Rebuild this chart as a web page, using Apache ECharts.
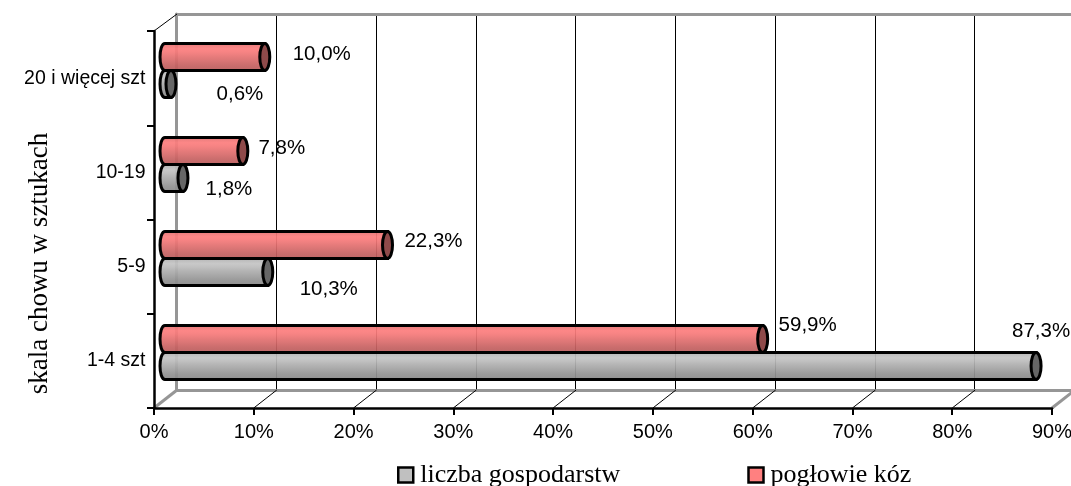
<!DOCTYPE html>
<html><head><meta charset="utf-8">
<style>html,body{margin:0;padding:0;background:#fff}#c{width:1071px;height:486px}</style>
<script src="https://cdn.jsdelivr.net/npm/echarts@6/dist/echarts.min.js"></script>
</head><body><div id="c"></div>
<script>
const categories = ['1-4 szt', '5-9', '10-19', '20 i więcej szt'];
const farms = [87.3, 10.3, 1.8, 0.6];
const goats = [59.9, 22.3, 7.8, 10.0];
const farmsName = 'liczba gospodarstw';
const goatsName = 'pogłowie kóz';
const axisName = 'skala chowu w sztukach';
const ticks = [0, 10, 20, 30, 40, 50, 60, 70, 80, 90];

// label nudges (layout only), px from the end of each bar
const farmLabelNudge = [[5, -35], [61, 17], [46, 11], [69, 10]];
const goatLabelNudge = [[45, -14], [46, -4], [39, -3], [57, -3]];

const sans = '"Liberation Sans", Arial, sans-serif';
const serif = '"Liberation Serif", "Times New Roman", serif';

function bands(stops) {
  return { type: 'linear', x: 0, y: 0, x2: 0, y2: 1,
    colorStops: stops.map((c, i) => ({ offset: i / (stops.length - 1), color: c })) };
}
const redBody = bands(['rgba(218,108,108,.93)','rgba(236,118,118,.93)','rgba(252,126,126,.93)','rgba(246,122,122,.93)','rgba(234,116,116,.93)','rgba(222,110,110,.93)','rgba(210,104,104,.93)','rgba(198,98,98,.93)','rgba(190,94,94,.93)','rgba(182,90,90,.93)']);
const greyBody = bands(['rgba(170,170,170,.93)','rgba(184,184,184,.93)','rgba(196,196,196,.93)','rgba(188,188,188,.93)','rgba(176,176,176,.93)','rgba(166,166,166,.93)','rgba(156,156,156,.93)','rgba(146,146,146,.93)','rgba(140,140,140,.93)','rgba(134,134,134,.93)']);

function cylinder(values, nudges, body, cap, dir) {
  return function (params, api) {
    const i = api.value(0);
    const start = api.coord([0, i]);
    const end = api.coord([api.value(1), i]);
    const band = api.size([0, 1])[1];
    const h = band * 0.287;
    const cy = start[1] + dir * h / 2;
    const top = cy - h / 2, bot = cy + h / 2, rx = 5, ry = h / 2;
    const k = rx * 1.33;
    const outline = `M ${end[0]} ${top} L ${start[0]} ${top} C ${start[0] - k} ${top} ${start[0] - k} ${bot} ${start[0]} ${bot} L ${end[0]} ${bot} Z`;
    const nudge = nudges[i];
    return { type: 'group', children: [
      { type: 'path', shape: { pathData: outline },
        style: { fill: body, stroke: '#000', lineWidth: 3 } },
      { type: 'ellipse', shape: { cx: end[0], cy: cy, rx: rx, ry: ry },
        style: { fill: cap, stroke: '#000', lineWidth: 3 } },
      { type: 'text', style: { text: api.value(1).toFixed(1).replace('.', ',') + '%',
          x: end[0] + nudge[0], y: cy + nudge[1], align: 'center', verticalAlign: 'middle',
          font: '20.5px ' + sans, fill: '#000' } }
    ] };
  };
}

const chart = echarts.init(document.getElementById('c'), null, { renderer: 'canvas' });
const hidden = { show: false };
chart.setOption({
  animation: false,
  backgroundColor: '#fff',
  grid: [
    { left: 154, width: 898, top: 31, height: 377, outerBoundsMode: 'none' },
    { left: 176.5, width: 898, top: 14, height: 376, outerBoundsMode: 'none' },
    { left: 165, width: 898, top: 23.5, height: 376, outerBoundsMode: 'none' }
  ],
  legend: {
    left: 397, top: 462, padding: 0, itemWidth: 15, itemHeight: 15, itemGap: 127,
    icon: 'rect',
    data: [
      { name: farmsName, itemStyle: { color: '#c0c0c0', borderColor: '#000', borderWidth: 2.5 } },
      { name: goatsName, itemStyle: { color: '#ff8080', borderColor: '#000', borderWidth: 2.5 } }
    ],
    textStyle: { fontFamily: serif, fontSize: 26, color: '#000', padding: [0, 0, 0, 2] }
  },
  xAxis: [
    { gridIndex: 0, type: 'value', min: 0, max: 90, interval: 10, position: 'bottom', z: 5,
      axisLine: { show: true, lineStyle: { color: '#000', width: 2.5 } },
      axisTick: { show: true, length: 7, inside: false, lineStyle: { color: '#000', width: 2 } },
      axisLabel: { color: '#000', fontFamily: sans, fontSize: 20, margin: 14, formatter: '{value}%', hideOverlap: false },
      splitLine: hidden },
    { gridIndex: 1, type: 'value', min: 0, max: 90, interval: 10, position: 'bottom',
      axisLine: { show: true, lineStyle: { color: '#969696', width: 3 } },
      axisTick: hidden, axisLabel: hidden,
      splitLine: { show: true, showMinLine: false, lineStyle: { color: '#000', width: 1 } } },
    { gridIndex: 1, type: 'value', min: 0, max: 90, interval: 10, position: 'top',
      axisLine: { show: true, lineStyle: { color: '#969696', width: 3 } },
      axisTick: hidden, axisLabel: hidden, splitLine: hidden },
    { gridIndex: 2, type: 'value', min: 0, max: 90, show: false, splitLine: hidden }
  ],
  yAxis: [
    { gridIndex: 0, type: 'category', data: categories, z: 5,
      name: axisName, nameLocation: 'middle', nameGap: 101, nameRotate: 90, nameMoveOverlap: false,
      nameTextStyle: { fontFamily: serif, fontSize: 27, color: '#000', padding: [0, 88, 0, 0] },
      axisLine: { show: true, lineStyle: { color: '#000', width: 2.5 } },
      axisTick: { show: true, length: 7, lineStyle: { color: '#000', width: 2 } },
      axisLabel: { color: '#000', fontFamily: sans, fontSize: 19.5, margin: 8.5 } },
    { gridIndex: 1, type: 'category', data: categories, position: 'left',
      axisLine: { show: true, lineStyle: { color: '#969696', width: 3 } },
      axisTick: hidden, axisLabel: hidden, splitLine: hidden },
    { gridIndex: 2, type: 'category', data: categories, show: false }
  ],
  series: [
    { name: farmsName, type: 'custom', xAxisIndex: 3, yAxisIndex: 2, z: 3, clip: false,
      encode: { x: 1, y: 0 }, itemStyle: { color: '#c0c0c0' },
      data: farms.map((v, i) => [i, v]),
      renderItem: cylinder(farms, farmLabelNudge, greyBody, '#666666', 1) },
    { name: goatsName, type: 'custom', xAxisIndex: 3, yAxisIndex: 2, z: 4, clip: false,
      encode: { x: 1, y: 0 }, itemStyle: { color: '#ff8080' },
      data: goats.map((v, i) => [i, v]),
      renderItem: cylinder(goats, goatLabelNudge, redBody, '#8f4a4a', -1) },
    { type: 'custom', xAxisIndex: 0, yAxisIndex: 0, z: 2, silent: true, clip: false,
      encode: { x: 0 },
      data: ticks.map(t => [t]),
      renderItem: function (params, api) {
        const t = api.value(0);
        const x = api.coord([t, 0])[0];
        const y = params.coordSys.y + params.coordSys.height;
        const edge = t === ticks[0] || t === ticks[ticks.length - 1];
        const floor = { type: 'line', shape: { x1: x, y1: y, x2: x + 23, y2: y - 18 },
          style: { stroke: edge ? '#969696' : '#000', lineWidth: edge ? 3 : 1 } };
        if (t !== ticks[0]) return floor;
        return { type: 'group', children: [ floor,
          { type: 'line', shape: { x1: x, y1: params.coordSys.y, x2: x + 23, y2: params.coordSys.y - 17 },
            style: { stroke: '#000', lineWidth: 1 } } ] };
      } }
  ]
});
</script></body></html>
